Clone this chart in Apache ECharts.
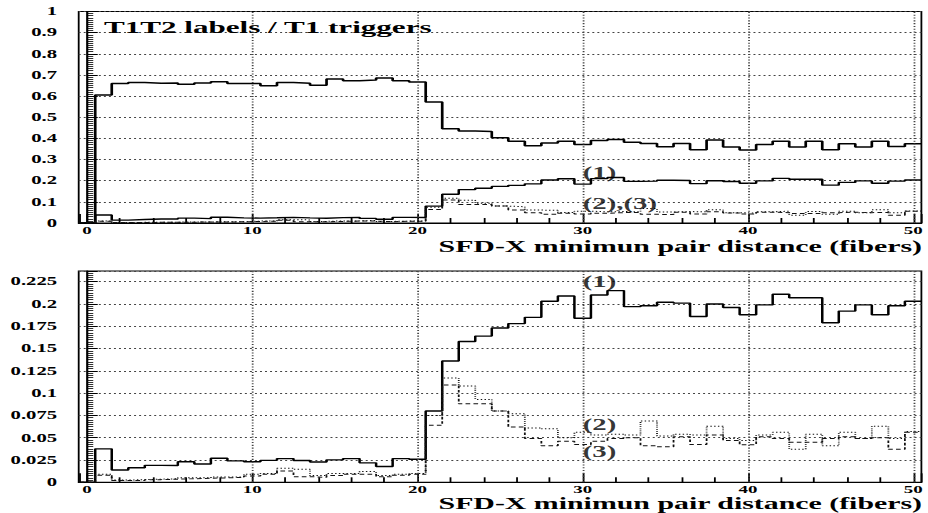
<!DOCTYPE html>
<html>
<head>
<meta charset="utf-8">
<script src="https://cdn.jsdelivr.net/npm/echarts@6/dist/echarts.min.js"></script>
<style>
  html, body { margin: 0; padding: 0; background: #fff; overflow: hidden; }
  #stage { width: 928px; height: 513px; overflow: hidden; }
  /* The plot is laid out in a narrow frame and stretched horizontally,
     giving the wide serif lettering of the printed figure. */
  #chart { width: 516px; height: 513px; transform: scaleX(1.7984); transform-origin: 0 0; }
</style>
</head>
<body>
<div id="stage"><div id="chart"></div></div>
<script>
// Bin centres (fibers) and bin width of the SFD-X minimum pair distance histogram
const binCenters = [0, 1, 2, 3, 4, 5, 6, 7, 8, 9, 10, 11, 12, 13, 14, 15, 16, 17, 18, 19, 20,
  21, 22, 23, 24, 25, 26, 27, 28, 29, 30, 31, 32, 33, 34, 35, 36, 37, 38, 39, 40,
  41, 42, 43, 44, 45, 46, 47, 48, 49, 50];
const binWidth = 1;

// Vertical grid positions along the distance axis
const gridX = [10, 20, 30, 40, 50];

// T1T2 labels / T1 triggers, all labels
const ratioAll = [0, 0.605, 0.659, 0.664, 0.661, 0.662, 0.656, 0.662, 0.668, 0.659, 0.659,
  0.649, 0.664, 0.661, 0.651, 0.681, 0.673, 0.676, 0.686, 0.673, 0.667,
  0.572, 0.446, 0.435, 0.433, 0.403, 0.386, 0.365, 0.378, 0.387, 0.371,
  0.390, 0.395, 0.382, 0.376, 0.360, 0.376, 0.346, 0.392, 0.359, 0.345,
  0.371, 0.386, 0.359, 0.386, 0.346, 0.375, 0.359, 0.386, 0.362, 0.375];

// label class (1)
const ratio1 = [0, 0.0375, 0.0138, 0.0164, 0.019, 0.0188, 0.023, 0.0205, 0.027, 0.024, 0.023,
  0.0246, 0.0266, 0.0244, 0.0228, 0.0252, 0.0266, 0.0218, 0.0178, 0.0266, 0.0258,
  0.080, 0.136, 0.158, 0.164, 0.173, 0.178, 0.185, 0.203, 0.209, 0.184,
  0.210, 0.215, 0.197, 0.198, 0.202, 0.201, 0.186, 0.200, 0.196, 0.188,
  0.199, 0.211, 0.207, 0.207, 0.179, 0.192, 0.199, 0.188, 0.198, 0.203];

// label class (2)
const ratio2 = [0, 0.009, 0.0025, 0.003, 0.0035, 0.004, 0.005, 0.005, 0.006, 0.006, 0.009,
  0.010, 0.0157, 0.0146, 0.0075, 0.010, 0.010, 0.012, 0.0075, 0.009, 0.010,
  0.075, 0.117, 0.108, 0.093, 0.080, 0.077, 0.061, 0.060, 0.050, 0.056,
  0.053, 0.054, 0.053, 0.0687, 0.052, 0.054, 0.053, 0.063, 0.049, 0.047,
  0.053, 0.056, 0.037, 0.054, 0.041, 0.056, 0.049, 0.063, 0.049, 0.057];

// label class (3)
const ratio3 = [0, 0.008, 0.002, 0.002, 0.003, 0.0035, 0.004, 0.0045, 0.005, 0.0055, 0.007,
  0.009, 0.0127, 0.0063, 0.0056, 0.0075, 0.009, 0.009, 0.0063, 0.008, 0.009,
  0.064, 0.109, 0.088, 0.088, 0.080, 0.062, 0.049, 0.041, 0.046, 0.0425,
  0.046, 0.049, 0.050, 0.041, 0.040, 0.051, 0.0425, 0.053, 0.047, 0.042,
  0.051, 0.049, 0.045, 0.045, 0.049, 0.051, 0.049, 0.050, 0.037, 0.056];

const xTitle = 'SFD-X minimun pair distance (fibers)';
const plotTitle = 'T1T2 labels / T1 triggers';

// Turn per-bin contents into a histogram outline (flat top over each bin)
function histOutline(values) {
  const pts = [];
  binCenters.forEach((c, i) => {
    pts.push([c - binWidth / 2, values[i]]);
    pts.push([c + binWidth / 2, values[i]]);
  });
  return pts;
}

const SERIF = '"Liberation Serif", "Times New Roman", serif';
const dotted = { type: [1.1, 1.7], color: '#444', width: 1 };

function xAxisDef(gridIndex) {
  return {
    type: 'value', gridIndex: gridIndex,
    min: binCenters[0] - binWidth / 2,
    max: binCenters[binCenters.length - 1] + binWidth / 2,
    splitNumber: 5,
    axisLine: { show: true, onZero: false, lineStyle: { color: '#000', width: 1 } },
    axisTick: { show: true, inside: true, length: 9, lineStyle: { color: '#000', width: 1 } },
    minorTick: { show: true, splitNumber: 5, length: 5, lineStyle: { color: '#000', width: 1 } },
    splitLine: { show: false },
    axisLabel: {
      showMinLabel: false, showMaxLabel: false, margin: 1.5,
      fontFamily: SERIF, fontWeight: 'bold', fontSize: 10.5, lineHeight: 11, color: '#000'
    }
  };
}

function yAxisDef(gridIndex, max, interval) {
  return {
    type: 'value', gridIndex: gridIndex, min: 0, max: max, interval: interval,
    axisLine: { show: true, lineStyle: { color: '#000', width: 1.2 } },
    axisTick: { show: true, inside: true, length: 6, lineStyle: { color: '#000', width: 1 } },
    minorTick: { show: true, splitNumber: 10, length: 3.5, lineStyle: { color: '#000', width: 0.8 } },
    splitLine: { show: true, lineStyle: dotted },
    axisLabel: {
      showMaxLabel: max === 1, margin: 12,
      fontFamily: SERIF, fontWeight: 'bold', fontSize: 11.5, color: '#000'
    }
  };
}

function histSeries(name, values, gridIndex, style) {
  return {
    type: 'line', name: name, xAxisIndex: gridIndex, yAxisIndex: gridIndex,
    data: histOutline(values), showSymbol: false, symbol: 'none',
    lineStyle: style, silent: true, z: 3
  };
}

// Dotted vertical grid lines at the major distance values
function gridLineSeries(gridIndex) {
  return {
    type: 'line', xAxisIndex: gridIndex, yAxisIndex: gridIndex, data: [], silent: true, z: 1,
    markLine: {
      silent: true, symbol: ['none', 'none'], label: { show: false },
      lineStyle: dotted, emphasis: { disabled: true },
      data: gridX.map(v => ({ xAxis: v }))
    }
  };
}

const solidMain = { color: '#000', width: 1.5, type: 'solid' };
const solid1 = { color: '#000', width: 1.4, type: 'solid' };
const dots2 = { color: '#111', width: 1, type: [0.8, 1.3] };
const dashes3 = { color: '#111', width: 1, type: [2.6, 1.8] };

function tagSeries(gridIndex, tags) {
  return {
    type: 'scatter', xAxisIndex: gridIndex, yAxisIndex: gridIndex,
    symbolSize: 1, itemStyle: { color: 'rgba(0,0,0,0)' }, silent: true, z: 5,
    data: tags,
    label: {
      show: true, position: 'right', distance: 0,
      formatter: p => p.name,
      fontFamily: SERIF, fontWeight: 'bold', fontSize: 16, color: '#000'
    }
  };
}

const chart = echarts.init(document.getElementById('chart'), null,
  { renderer: 'svg', width: 516, height: 513 });

chart.setOption({
  animation: false,
  backgroundColor: '#fff',
  grid: [
    { left: 43.76, right: 1.22, top: 11.5, height: 211.5, show: true, borderColor: '#000', borderWidth: 1 },
    { left: 43.76, right: 1.22, top: 271, height: 211.3, show: true, borderColor: '#000', borderWidth: 1 }
  ],
  xAxis: [xAxisDef(0), xAxisDef(1)],
  yAxis: [yAxisDef(0, 1, 0.1), yAxisDef(1, 0.237, 0.025)],
  series: [
    gridLineSeries(0),
    gridLineSeries(1),
    histSeries('all', ratioAll, 0, solidMain),
    histSeries('(1)', ratio1, 0, solid1),
    histSeries('(2)', ratio2, 0, dots2),
    histSeries('(3)', ratio3, 0, dashes3),
    histSeries('(1)', ratio1, 1, solid1),
    histSeries('(2)', ratio2, 1, dots2),
    histSeries('(3)', ratio3, 1, dashes3),
    tagSeries(0, [
      { name: '(1)', value: [29.95, 0.239] },
      { name: '(2),(3)', value: [29.95, 0.090] }
    ]),
    tagSeries(1, [
      { name: '(1)', value: [29.95, 0.225] },
      { name: '(2)', value: [29.95, 0.0643] },
      { name: '(3)', value: [29.95, 0.0343] }
    ])
  ],
  graphic: [
    {
      type: 'text', x: 57.8, y: 27, z: 10,
      style: { text: plotTitle, align: 'left', verticalAlign: 'middle',
        font: 'bold 17.3px ' + SERIF, fill: '#000' }
    },
    {
      type: 'text', x: 512.7, y: 246, z: 10,
      style: { text: xTitle, align: 'right', verticalAlign: 'middle', lineHeight: 16,
        font: 'bold 16.6px ' + SERIF, fill: '#000' }
    },
    {
      type: 'text', x: 512.7, y: 503.5, z: 10,
      style: { text: xTitle, align: 'right', verticalAlign: 'middle', lineHeight: 16,
        font: 'bold 16.6px ' + SERIF, fill: '#000' }
    }
  ]
});
</script>
</body>
</html>
